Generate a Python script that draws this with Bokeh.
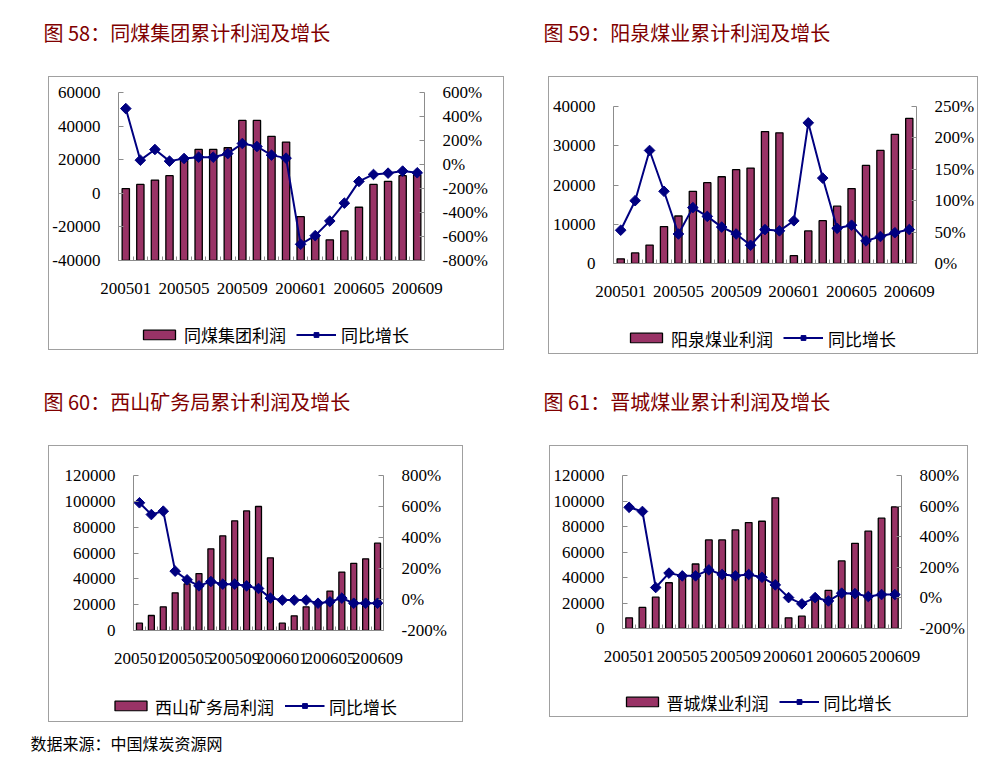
from bokeh.plotting import figure
from bokeh.layouts import column, row
from bokeh.models import (Range1d, LinearAxis, FixedTicker, SingleIntervalTicker,
                          PrintfTickFormatter, Legend, LegendItem)
from bokeh.core.properties import value
from bokeh.embed import file_html
from bokeh.resources import INLINE
import math

# ---------------- data ----------------
months = ["200501", "200502", "200503", "200504", "200505", "200506", "200507",
          "200508", "200509", "200510", "200511", "200512", "200601", "200602",
          "200603", "200604", "200605", "200606", "200607", "200608", "200609"]
tick_months = ["200501", "200505", "200509", "200601", "200605", "200609"]

# 图58 同煤集团
profit58 = [2800, 5300, 7900, 10500, 20200, 26100, 26100, 27100, 43400, 43400, 33900,
            30500, -13900, -25000, -27700, -22400, -8300, 5300, 7100, 10500, 11000]
growth58 = [466, 36, 125, 28, 50, 61, 61, 91, 175, 150, 78, 53, -665, -593, -471,
            -322, -141, -83, -72, -55, -69]

# 图59 阳泉煤业
profit59 = [1200, 2700, 4700, 9400, 12100, 18400, 20600, 22100, 23900, 24300, 33600,
            33300, 2000, 8300, 10900, 14600, 19100, 25000, 28800, 32900, 37000]
growth59 = [53, 100, 180, 115, 47, 89, 75, 58, 47, 29, 54, 52, 68, 224, 136, 56, 61,
            36, 43, 49, 54]

# 图60 西山矿务局
profit60 = [5700, 11600, 18300, 29200, 36100, 44100, 63200, 73300, 84900, 92600, 96000,
            56300, 5700, 11400, 18300, 21000, 30500, 45200, 52000, 55500, 67600]
growth60 = [624, 548, 570, 183, 127, 88, 116, 99, 99, 88, 71, 9, -4, -4, -4, -24, -15,
            9, -24, -24, -24]

# 图61 晋城煤业
profit61 = [8400, 16500, 24600, 35900, 41000, 50600, 69500, 69500, 77300, 83100, 84100,
            102500, 8400, 9700, 24400, 29900, 53000, 66800, 76300, 86500, 95400]
growth61 = [592, 565, 68, 162, 144, 144, 183, 153, 144, 153, 135, 85, 2, -39, 2, -20,
            31, 28, 9, 22, 22]

titles = ["图 58：同煤集团累计利润及增长", "图 59：阳泉煤业累计利润及增长",
          "图 60：西山矿务局累计利润及增长", "图 61：晋城煤业累计利润及增长"]
bar_names = ["同煤集团利润", "阳泉煤业利润", "西山矿务局利润", "晋城煤业利润"]
line_name = "同比增长"
source_note = "数据来源：中国煤炭资源网"

# axis scales: (min, max, step) for left and right axes
left58, right58 = (-40000, 60000, 20000), (-800, 600, 200)
left59, right59 = (0, 40000, 10000), (0, 250, 50)
left60, right60 = (0, 120000, 20000), (-200, 800, 200)
left61, right61 = (0, 120000, 20000), (-200, 800, 200)

# ---------------- styles ----------------
BAR_COLOR = "#993366"
LINE_COLOR = "#000080"
AXIS_COLOR = "#8c8c8c"
BOX_COLOR = "#a0a0a0"
TITLE_COLOR = "#800000"
NUM_FONT = "Liberation Serif"
CJK_FONT = "Noto Sans CJK SC"


def bare_fig(W, H):
    f = figure(width=W, height=H, output_backend="svg", toolbar_location=None, tools="",
               x_range=Range1d(0, W), y_range=Range1d(0, H), min_border=0,
               x_axis_type=None, y_axis_type=None)
    f.grid.visible = False
    f.outline_line_color = None
    f.background_fill_color = "white"
    f.border_fill_color = "white"
    f.frame_align = False
    return f


def text_fig(text, W, H, tx, ty_from_top, size, color, margin=None):
    f = bare_fig(W, H)
    f.text(x=[tx], y=[H - ty_from_top], text=[text], text_baseline="middle",
           text_align="left", text_font=value(CJK_FONT), text_font_size=size,
           text_color=color)
    if margin is not None:
        f.margin = margin
    return f


def add_series(p, profit, growth, base, visible=True):
    idx = list(range(len(months)))
    bars = p.vbar(x=idx, top=profit, bottom=base, width=0.5,
                  fill_color=BAR_COLOR, line_color="black", line_width=1.3)
    ln = p.line(x=idx, y=growth, y_range_name="pct", line_color=LINE_COLOR, line_width=2)
    pts = p.scatter(x=idx, y=growth, y_range_name="pct", marker="square", size=7.5,
                    angle=math.pi / 4, fill_color=LINE_COLOR, line_color=LINE_COLOR)
    for r in (bars, ln, pts):
        r.visible = visible
    return bars, ln, pts


def make_box(bar_name, profit, growth, left, right, Wb, Hc, Hl, frame, margin):
    fl, fr, ft, fb = frame  # frame edges in canvas px of the chart figure
    p = figure(width=Wb, height=Hc, output_backend="svg", toolbar_location=None, tools="",
               x_range=Range1d(-0.5, len(months) - 0.5),
               y_range=Range1d(left[0], left[1]),
               min_border_left=fl, min_border_right=Wb - fr,
               min_border_top=ft, min_border_bottom=Hc - fb)
    p.frame_align = False
    p.extra_y_ranges = {"pct": Range1d(right[0], right[1])}
    p.grid.visible = False
    p.outline_line_color = None
    p.background_fill_color = "white"
    p.border_fill_color = "white"
    add_series(p, profit, growth, left[0])

    xa = p.xaxis[0]
    tick_pos = [months.index(m) for m in tick_months]
    xa.ticker = FixedTicker(ticks=tick_pos,
                            minor_ticks=[i - 0.5 for i in range(len(months) + 1)])
    xa.major_label_overrides = {float(i): months[i] for i in tick_pos}
    xa.axis_line_color = AXIS_COLOR
    xa.major_tick_line_color = None
    xa.minor_tick_line_color = AXIS_COLOR
    xa.minor_tick_in = 4
    xa.minor_tick_out = 0
    xa.major_label_standoff = 16
    xa.major_label_text_font = NUM_FONT
    xa.major_label_text_font_size = "17px"
    xa.major_label_text_color = "black"

    ya = p.yaxis[0]
    ya.ticker = SingleIntervalTicker(interval=left[2])
    ya.formatter = PrintfTickFormatter(format="%d")
    ra = LinearAxis(y_range_name="pct", ticker=SingleIntervalTicker(interval=right[2]),
                    formatter=PrintfTickFormatter(format="%d%%"))
    p.add_layout(ra, "right")
    for a in (ya, ra):
        a.axis_line_color = AXIS_COLOR
        a.major_tick_line_color = AXIS_COLOR
        a.major_tick_in = 5
        a.major_tick_out = 0
        a.minor_tick_line_color = None
        a.major_label_standoff = 14
        a.major_label_text_font = NUM_FONT
        a.major_label_text_font_size = "17px"
        a.major_label_text_color = "black"

    # legend strip (own figure, renderers hidden, only the legend shows)
    lf = bare_fig(Wb, Hl)
    lf.extra_y_ranges = {"pct": Range1d(0, 1)}
    bars, ln, pts = add_series(lf, profit, growth, left[0], visible=False)
    legend = Legend(items=[LegendItem(label=bar_name, renderers=[bars]),
                           LegendItem(label=line_name, renderers=[ln, pts])],
                    orientation="horizontal", location="center",
                    glyph_width=40, glyph_height=12, label_standoff=5, spacing=10,
                    label_width=72, padding=2, margin=0,
                    border_line_color=None,
                    background_fill_alpha=0, inactive_fill_alpha=0,
                    label_text_font=CJK_FONT,
                    label_text_font_size="17px", label_text_color="black")
    lf.add_layout(legend)

    return column(p, lf, spacing=0, margin=margin,
                  styles={"border": f"1px solid {BOX_COLOR}"})


t1 = text_fig(titles[0], 496, 48, 35, 24, "20px", TITLE_COLOR)
b1 = make_box(bar_names[0], profit58, growth58, left58, right58,
              454, 242, 30, (68, 375, 15, 183), (20, 0, 0, 40))
t2 = text_fig(titles[1], 474, 48, 39, 24, "20px", TITLE_COLOR)
b2 = make_box(bar_names[1], profit59, growth59, left59, right59,
              428, 245, 31, (61, 370, 29, 186), (20, 0, 0, 44))
t3 = text_fig(titles[2], 496, 48, 35, 24, "20px", TITLE_COLOR, margin=(23, 0, 0, 0))
b3 = make_box(bar_names[2], profit60, growth60, left60, right60,
              413, 244, 31, (84, 334, 29, 184), (20, 0, 0, 40))
t4 = text_fig(titles[3], 474, 48, 39, 24, "20px", TITLE_COLOR, margin=(23, 0, 0, 0))
b4 = make_box(bar_names[3], profit61, growth61, left61, right61,
              417, 241, 29, (69, 353, 29, 182), (20, 0, 0, 45))
foot = text_fig(source_note, 300, 36, 22, 20, "16px", "black")

layout = column(row(column(t1, b1), column(t2, b2)),
                row(column(t3, b3), column(t4, b4)),
                foot, margin=(8, 0, 0, 8))
open("out.html", "w").write(file_html(layout, INLINE))
